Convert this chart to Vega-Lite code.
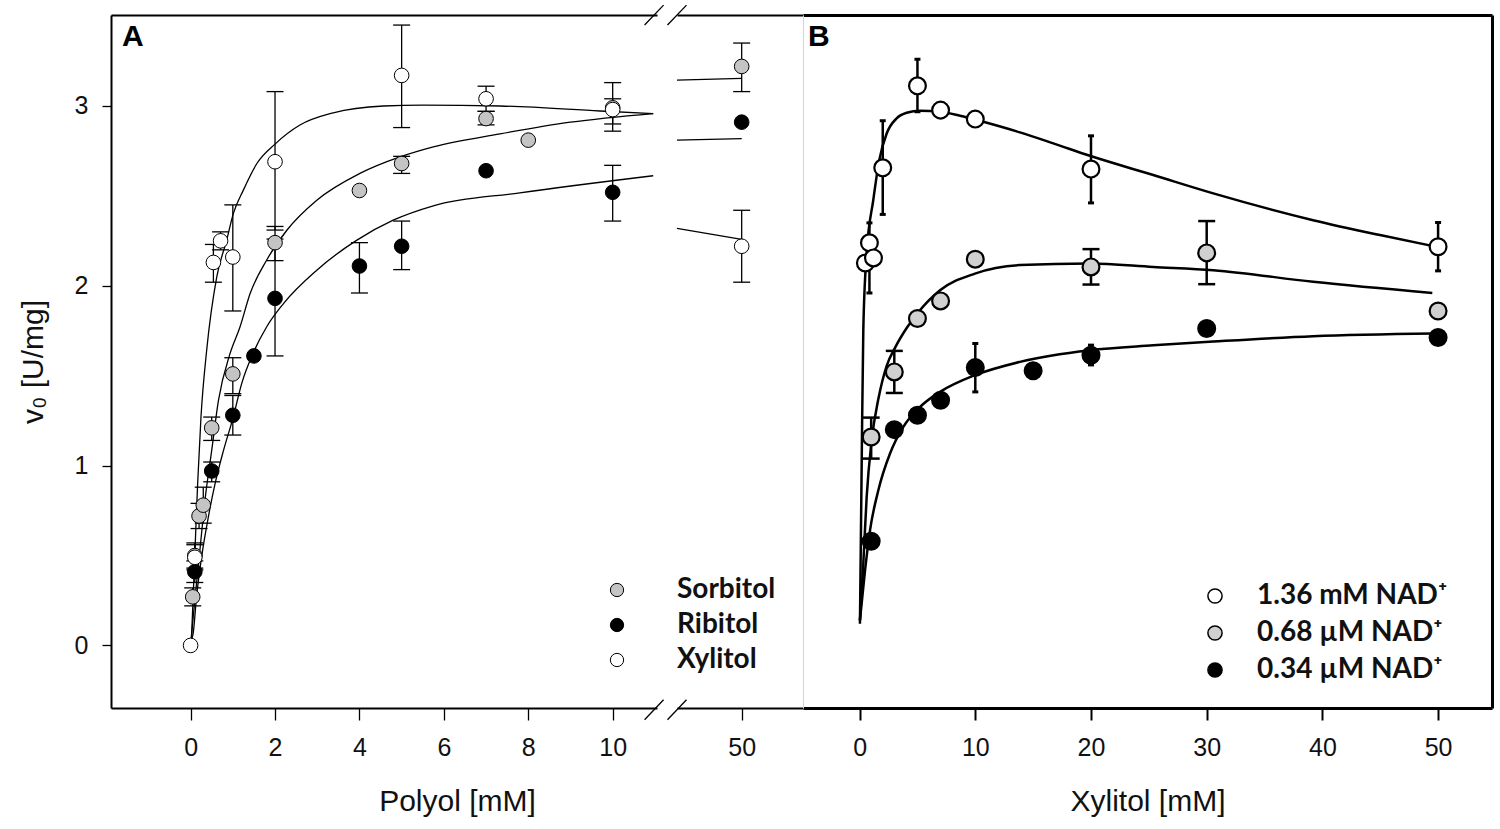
{
  "$schema": "https://vega.github.io/schema/vega-lite/v6.json",
  "background": "white",
  "padding": {"left": 18, "top": 4, "right": 5, "bottom": 5},
  "datasets": {
    "ptsA": [
      {"series": "Sorbitol", "x": 0.05, "v": 0.27, "lo": 0.22, "hi": 0.32},
      {"series": "Sorbitol", "x": 0.1, "v": 0.5, "lo": 0.43, "hi": 0.57},
      {"series": "Sorbitol", "x": 0.2, "v": 0.72, "lo": 0.65, "hi": 0.79},
      {"series": "Sorbitol", "x": 0.3, "v": 0.78, "lo": 0.68, "hi": 0.88},
      {"series": "Sorbitol", "x": 0.5, "v": 1.21, "lo": 1.14, "hi": 1.27},
      {"series": "Sorbitol", "x": 1, "v": 1.51, "lo": 1.4, "hi": 1.6},
      {"series": "Sorbitol", "x": 2, "v": 2.24, "lo": 2.14, "hi": 2.33},
      {"series": "Sorbitol", "x": 4, "v": 2.53},
      {"series": "Sorbitol", "x": 5, "v": 2.68, "lo": 2.625, "hi": 2.72},
      {"series": "Sorbitol", "x": 7, "v": 2.93, "lo": 2.895, "hi": 2.97},
      {"series": "Sorbitol", "x": 8, "v": 2.81},
      {"series": "Sorbitol", "x": 10, "v": 2.99, "lo": 2.9, "hi": 3.04},
      {"series": "Sorbitol", "x": 50, "v": 3.22, "lo": 3.08, "hi": 3.35},
      {"series": "Ribitol", "x": 0.1, "v": 0.41, "lo": 0.35, "hi": 0.47},
      {"series": "Ribitol", "x": 0.5, "v": 0.97, "lo": 0.91, "hi": 1.02},
      {"series": "Ribitol", "x": 1, "v": 1.28, "lo": 1.17, "hi": 1.39},
      {"series": "Ribitol", "x": 1.5, "v": 1.61},
      {"series": "Ribitol", "x": 2, "v": 1.93, "lo": 1.61, "hi": 2.26},
      {"series": "Ribitol", "x": 4, "v": 2.11, "lo": 1.96, "hi": 2.24},
      {"series": "Ribitol", "x": 5, "v": 2.22, "lo": 2.09, "hi": 2.36},
      {"series": "Ribitol", "x": 7, "v": 2.64},
      {"series": "Ribitol", "x": 10, "v": 2.52, "lo": 2.36, "hi": 2.67},
      {"series": "Ribitol", "x": 50, "v": 2.91},
      {"series": "Xylitol", "x": 0, "v": 0.0},
      {"series": "Xylitol", "x": 0.1, "v": 0.49, "lo": 0.42, "hi": 0.56},
      {"series": "Xylitol", "x": 0.54, "v": 2.13, "lo": 2.02, "hi": 2.23},
      {"series": "Xylitol", "x": 0.71, "v": 2.25, "lo": 2.2, "hi": 2.3},
      {"series": "Xylitol", "x": 1, "v": 2.16, "lo": 1.86, "hi": 2.45},
      {"series": "Xylitol", "x": 2, "v": 2.69, "lo": 2.31, "hi": 3.08},
      {"series": "Xylitol", "x": 5, "v": 3.17, "lo": 2.88, "hi": 3.45},
      {"series": "Xylitol", "x": 7, "v": 3.04, "lo": 2.97, "hi": 3.11},
      {"series": "Xylitol", "x": 10, "v": 2.98, "lo": 2.86, "hi": 3.13},
      {"series": "Xylitol", "x": 50, "v": 2.22, "lo": 2.02, "hi": 2.42}
    ],
    "curveA": [
      {"series": "Xylitol", "x": 0.02, "v": 0.03},
      {"series": "Xylitol", "x": 0.104, "v": 0.53},
      {"series": "Xylitol", "x": 0.167, "v": 0.9},
      {"series": "Xylitol", "x": 0.246, "v": 1.27},
      {"series": "Xylitol", "x": 0.38, "v": 1.64},
      {"series": "Xylitol", "x": 0.62, "v": 2.05},
      {"series": "Xylitol", "x": 0.855, "v": 2.254},
      {"series": "Xylitol", "x": 1.01, "v": 2.4},
      {"series": "Xylitol", "x": 1.25, "v": 2.532},
      {"series": "Xylitol", "x": 1.57, "v": 2.68},
      {"series": "Xylitol", "x": 2.0, "v": 2.788},
      {"series": "Xylitol", "x": 2.59, "v": 2.894},
      {"series": "Xylitol", "x": 3.38, "v": 2.962},
      {"series": "Xylitol", "x": 4.57, "v": 3.0},
      {"series": "Xylitol", "x": 5.5, "v": 3.005},
      {"series": "Xylitol", "x": 7.33, "v": 3.0},
      {"series": "Xylitol", "x": 9.7, "v": 2.972},
      {"series": "Xylitol", "x": 10.96, "v": 2.957},
      {"series": "Xylitol", "x": 43.84, "v": 2.319},
      {"series": "Xylitol", "x": 50, "v": 2.258},
      {"series": "Sorbitol", "x": 0.01, "v": 0.03},
      {"series": "Sorbitol", "x": 0.1, "v": 0.25},
      {"series": "Sorbitol", "x": 0.22, "v": 0.529},
      {"series": "Sorbitol", "x": 0.34, "v": 0.807},
      {"series": "Sorbitol", "x": 0.5, "v": 1.085},
      {"series": "Sorbitol", "x": 0.66, "v": 1.363},
      {"series": "Sorbitol", "x": 0.93, "v": 1.62},
      {"series": "Sorbitol", "x": 1.17, "v": 1.771},
      {"series": "Sorbitol", "x": 1.41, "v": 1.957},
      {"series": "Sorbitol", "x": 1.8, "v": 2.142},
      {"series": "Sorbitol", "x": 2.28, "v": 2.309},
      {"series": "Sorbitol", "x": 2.99, "v": 2.476},
      {"series": "Sorbitol", "x": 4.01, "v": 2.625},
      {"series": "Sorbitol", "x": 4.96, "v": 2.717},
      {"series": "Sorbitol", "x": 5.75, "v": 2.773},
      {"series": "Sorbitol", "x": 7.33, "v": 2.845},
      {"series": "Sorbitol", "x": 9.0, "v": 2.91},
      {"series": "Sorbitol", "x": 10.96, "v": 2.958},
      {"series": "Sorbitol", "x": 43.84, "v": 3.144},
      {"series": "Sorbitol", "x": 50, "v": 3.154},
      {"series": "Ribitol", "x": 0.01, "v": 0.03},
      {"series": "Ribitol", "x": 0.06, "v": 0.066},
      {"series": "Ribitol", "x": 0.14, "v": 0.269},
      {"series": "Ribitol", "x": 0.26, "v": 0.491},
      {"series": "Ribitol", "x": 0.42, "v": 0.714},
      {"series": "Ribitol", "x": 0.58, "v": 0.9},
      {"series": "Ribitol", "x": 0.78, "v": 1.085},
      {"series": "Ribitol", "x": 1.01, "v": 1.27},
      {"series": "Ribitol", "x": 1.21, "v": 1.456},
      {"series": "Ribitol", "x": 1.49, "v": 1.63},
      {"series": "Ribitol", "x": 1.8, "v": 1.771},
      {"series": "Ribitol", "x": 2.2, "v": 1.901},
      {"series": "Ribitol", "x": 2.99, "v": 2.087},
      {"series": "Ribitol", "x": 3.94, "v": 2.254},
      {"series": "Ribitol", "x": 4.8, "v": 2.365},
      {"series": "Ribitol", "x": 5.75, "v": 2.445},
      {"series": "Ribitol", "x": 7.8, "v": 2.517},
      {"series": "Ribitol", "x": 10.96, "v": 2.612},
      {"series": "Ribitol", "x": 43.84, "v": 2.81},
      {"series": "Ribitol", "x": 50, "v": 2.818}
    ],
    "ptsB": [
      {"series": "1.36 mM NAD⁺", "x": 0.5, "v": 2.127},
      {"series": "1.36 mM NAD⁺", "x": 0.85, "v": 2.239, "lo": 1.96, "hi": 2.35},
      {"series": "1.36 mM NAD⁺", "x": 1.2, "v": 2.155},
      {"series": "1.36 mM NAD⁺", "x": 2, "v": 2.656, "lo": 2.397, "hi": 2.918},
      {"series": "1.36 mM NAD⁺", "x": 5, "v": 3.112, "lo": 2.968, "hi": 3.26},
      {"series": "1.36 mM NAD⁺", "x": 7, "v": 2.977},
      {"series": "1.36 mM NAD⁺", "x": 10, "v": 2.927},
      {"series": "1.36 mM NAD⁺", "x": 20, "v": 2.649, "lo": 2.461, "hi": 2.834},
      {"series": "1.36 mM NAD⁺", "x": 50, "v": 2.217, "lo": 2.083, "hi": 2.352},
      {"series": "0.68 µM NAD⁺", "x": 1, "v": 1.159, "lo": 1.039, "hi": 1.267},
      {"series": "0.68 µM NAD⁺", "x": 3, "v": 1.521, "lo": 1.404, "hi": 1.638},
      {"series": "0.68 µM NAD⁺", "x": 5, "v": 1.818},
      {"series": "0.68 µM NAD⁺", "x": 7, "v": 1.916},
      {"series": "0.68 µM NAD⁺", "x": 10, "v": 2.148},
      {"series": "0.68 µM NAD⁺", "x": 20, "v": 2.105, "lo": 2.007, "hi": 2.204},
      {"series": "0.68 µM NAD⁺", "x": 30, "v": 2.183, "lo": 2.009, "hi": 2.36},
      {"series": "0.68 µM NAD⁺", "x": 50, "v": 1.86},
      {"series": "0.34 µM NAD⁺", "x": 1, "v": 0.579},
      {"series": "0.34 µM NAD⁺", "x": 3, "v": 1.2},
      {"series": "0.34 µM NAD⁺", "x": 5, "v": 1.28},
      {"series": "0.34 µM NAD⁺", "x": 7, "v": 1.363},
      {"series": "0.34 µM NAD⁺", "x": 10, "v": 1.545, "lo": 1.41, "hi": 1.679},
      {"series": "0.34 µM NAD⁺", "x": 15, "v": 1.527},
      {"series": "0.34 µM NAD⁺", "x": 20, "v": 1.614, "lo": 1.56, "hi": 1.67},
      {"series": "0.34 µM NAD⁺", "x": 30, "v": 1.762},
      {"series": "0.34 µM NAD⁺", "x": 50, "v": 1.712}
    ],
    "curveB": [
      {"series": "1.36 mM NAD⁺", "x": 0.03, "v": 0.12},
      {"series": "1.36 mM NAD⁺", "x": 0.18, "v": 1.01},
      {"series": "1.36 mM NAD⁺", "x": 0.32, "v": 1.753},
      {"series": "1.36 mM NAD⁺", "x": 0.61, "v": 2.18},
      {"series": "1.36 mM NAD⁺", "x": 1.18, "v": 2.476},
      {"series": "1.36 mM NAD⁺", "x": 1.7, "v": 2.699},
      {"series": "1.36 mM NAD⁺", "x": 2.34, "v": 2.847},
      {"series": "1.36 mM NAD⁺", "x": 3.2, "v": 2.931},
      {"series": "1.36 mM NAD⁺", "x": 4.07, "v": 2.962},
      {"series": "1.36 mM NAD⁺", "x": 5.22, "v": 2.973},
      {"series": "1.36 mM NAD⁺", "x": 6.95, "v": 2.968},
      {"series": "1.36 mM NAD⁺", "x": 8.68, "v": 2.946},
      {"series": "1.36 mM NAD⁺", "x": 10.69, "v": 2.912},
      {"series": "1.36 mM NAD⁺", "x": 13.86, "v": 2.853},
      {"series": "1.36 mM NAD⁺", "x": 16.74, "v": 2.792},
      {"series": "1.36 mM NAD⁺", "x": 19.9, "v": 2.723},
      {"series": "1.36 mM NAD⁺", "x": 25.38, "v": 2.616},
      {"series": "1.36 mM NAD⁺", "x": 30.57, "v": 2.514},
      {"series": "1.36 mM NAD⁺", "x": 39.2, "v": 2.365},
      {"series": "1.36 mM NAD⁺", "x": 44.98, "v": 2.282},
      {"series": "1.36 mM NAD⁺", "x": 50, "v": 2.215},
      {"series": "0.68 µM NAD⁺", "x": 0.03, "v": 0.14},
      {"series": "0.68 µM NAD⁺", "x": 0.32, "v": 0.455},
      {"series": "0.68 µM NAD⁺", "x": 0.61, "v": 0.825},
      {"series": "0.68 µM NAD⁺", "x": 1.04, "v": 1.141},
      {"series": "0.68 µM NAD⁺", "x": 1.62, "v": 1.37},
      {"series": "0.68 µM NAD⁺", "x": 2.34, "v": 1.555},
      {"series": "0.68 µM NAD⁺", "x": 3.06, "v": 1.655},
      {"series": "0.68 µM NAD⁺", "x": 4.07, "v": 1.765},
      {"series": "0.68 µM NAD⁺", "x": 4.99, "v": 1.846},
      {"series": "0.68 µM NAD⁺", "x": 6.95, "v": 1.975},
      {"series": "0.68 µM NAD⁺", "x": 9.97, "v": 2.068},
      {"series": "0.68 µM NAD⁺", "x": 13.86, "v": 2.115},
      {"series": "0.68 µM NAD⁺", "x": 19.9, "v": 2.124},
      {"series": "0.68 µM NAD⁺", "x": 25.38, "v": 2.105},
      {"series": "0.68 µM NAD⁺", "x": 30.57, "v": 2.087},
      {"series": "0.68 µM NAD⁺", "x": 39.2, "v": 2.022},
      {"series": "0.68 µM NAD⁺", "x": 49.5, "v": 1.96},
      {"series": "0.34 µM NAD⁺", "x": 0.03, "v": 0.14},
      {"series": "0.34 µM NAD⁺", "x": 0.47, "v": 0.417},
      {"series": "0.34 µM NAD⁺", "x": 0.9, "v": 0.64},
      {"series": "0.34 µM NAD⁺", "x": 1.62, "v": 0.863},
      {"series": "0.34 µM NAD⁺", "x": 2.63, "v": 1.067},
      {"series": "0.34 µM NAD⁺", "x": 3.78, "v": 1.215},
      {"series": "0.34 µM NAD⁺", "x": 5.22, "v": 1.326},
      {"series": "0.34 µM NAD⁺", "x": 6.95, "v": 1.41},
      {"series": "0.34 µM NAD⁺", "x": 9.97, "v": 1.503},
      {"series": "0.34 µM NAD⁺", "x": 13.86, "v": 1.577},
      {"series": "0.34 µM NAD⁺", "x": 19.9, "v": 1.642},
      {"series": "0.34 µM NAD⁺", "x": 25.38, "v": 1.669},
      {"series": "0.34 µM NAD⁺", "x": 30.57, "v": 1.69},
      {"series": "0.34 µM NAD⁺", "x": 39.2, "v": 1.72},
      {"series": "0.34 µM NAD⁺", "x": 49.6, "v": 1.735}
    ]
  },
  "spacing": 0,
  "resolve": {
    "scale": {"x": "independent", "y": "independent", "fill": "independent"},
    "legend": {"fill": "independent"}
  },
  "hconcat": [
    {
      "bounds": "flush",
      "spacing": 20,
      "resolve": {
        "scale": {"x": "independent", "y": "independent", "fill": "independent"},
        "legend": {"fill": "independent"}
      },
      "hconcat": [
        {
          "width": 546,
          "height": 693,
          "resolve": {"axis": {"x": "independent", "y": "independent"}},
          "layer": [
            {
              "data": {"name": "ptsA"},
              "transform": [{"filter": "datum.x < 20 && isValid(datum.lo)"}],
              "mark": {"type": "rule", "color": "black", "strokeWidth": 1.3},
              "encoding": {
                "x": {"field": "x", "type": "quantitative", "scale": {"domain": [-1.886, 11.05], "nice": false, "zero": false}, "axis": null},
                "y": {"field": "lo", "type": "quantitative", "scale": {"domain": [-0.348, 3.506], "nice": false, "zero": false}, "axis": null},
                "y2": {"field": "hi"}
              }
            },
            {
              "data": {"name": "ptsA"},
              "transform": [{"filter": "datum.x < 20 && isValid(datum.lo)"}],
              "mark": {"type": "tick", "orient": "horizontal", "color": "black", "size": 17, "thickness": 1.3, "opacity": 1},
              "encoding": {
                "x": {"field": "x", "type": "quantitative", "axis": null},
                "y": {"field": "lo", "type": "quantitative", "axis": null}
              }
            },
            {
              "data": {"name": "ptsA"},
              "transform": [{"filter": "datum.x < 20 && isValid(datum.hi)"}],
              "mark": {"type": "tick", "orient": "horizontal", "color": "black", "size": 17, "thickness": 1.3, "opacity": 1},
              "encoding": {
                "x": {"field": "x", "type": "quantitative", "axis": null},
                "y": {"field": "hi", "type": "quantitative", "axis": null}
              }
            },
            {
              "data": {"name": "curveA"},
              "transform": [{"filter": "datum.x < 20"}],
              "mark": {"type": "line", "color": "black", "strokeWidth": 1.3, "interpolate": "monotone"},
              "encoding": {
                "x": {"field": "x", "type": "quantitative", "axis": {"orient": "top", "labels": false, "ticks": false, "domainWidth": 2, "title": null}},
                "y": {"field": "v", "type": "quantitative", "axis": null},
                "detail": {"field": "series"}
              }
            },
            {
              "data": {"name": "ptsA"},
              "transform": [{"filter": "datum.x < 20"}],
              "mark": {"type": "point", "shape": "circle", "filled": true, "size": 214, "stroke": "black", "strokeWidth": 1, "opacity": 1},
              "encoding": {
                "x": {
                  "field": "x", "type": "quantitative",
                  "axis": {"orient": "bottom", "values": [0, 2, 4, 6, 8, 10], "tickSize": 12, "tickWidth": 1.3, "domainWidth": 2, "labelPadding": 15, "title": "Polyol [mM]", "titleX": 346, "titlePadding": 26}
                },
                "y": {
                  "field": "v", "type": "quantitative",
                  "axis": {"orient": "left", "values": [0, 1, 2, 3], "tickSize": 9, "tickWidth": 1.3, "domainWidth": 2, "labelPadding": 14, "title": "v₀ [U/mg]", "titlePadding": 26}
                },
                "fill": {
                  "field": "series", "type": "nominal",
                  "scale": {"domain": ["Sorbitol", "Ribitol", "Xylitol"], "range": ["#c4c4c4", "#000000", "#ffffff"]},
                  "legend": {"orient": "none", "legendX": 492, "legendY": 561, "title": null, "symbolSize": 177, "symbolStrokeWidth": 1, "labelOffset": 46, "rowPadding": 7, "labelLimit": 400}
                }
              }
            },
            {
              "data": {"values": [{}]},
              "mark": {"type": "text", "text": "A", "align": "left", "baseline": "top", "font": "Liberation Sans", "fontWeight": "bold", "fontSize": 30, "color": "black"},
              "encoding": {
                "x": {"datum": -1.626, "type": "quantitative", "axis": null},
                "y": {"datum": 3.467, "type": "quantitative", "axis": null}
              }
            },
            {
              "data": {"values": [{}]},
              "mark": {"type": "rule", "color": "black", "strokeWidth": 1.3},
              "encoding": {
                "x": {"datum": 10.756, "type": "quantitative", "axis": null},
                "x2": {"datum": 11.206},
                "y": {"datum": -0.4135, "type": "quantitative", "axis": null},
                "y2": {"datum": -0.302}
              }
            },
            {
              "data": {"values": [{}]},
              "mark": {"type": "rule", "color": "black", "strokeWidth": 1.3},
              "encoding": {
                "x": {"datum": 10.756, "type": "quantitative", "axis": null},
                "x2": {"datum": 11.206},
                "y": {"datum": 3.45, "type": "quantitative", "axis": null},
                "y2": {"datum": 3.561}
              }
            }
          ]
        },
        {
          "width": 126,
          "height": 693,
          "resolve": {"axis": {"x": "independent", "y": "independent"}},
          "layer": [
            {
              "data": {"name": "ptsA"},
              "transform": [{"filter": "datum.x > 20 && isValid(datum.lo)"}],
              "mark": {"type": "rule", "color": "black", "strokeWidth": 1.3},
              "encoding": {
                "x": {"field": "x", "type": "quantitative", "scale": {"domain": [43.84, 55.84], "nice": false, "zero": false}, "axis": null},
                "y": {"field": "lo", "type": "quantitative", "scale": {"domain": [-0.348, 3.506], "nice": false, "zero": false}, "axis": null},
                "y2": {"field": "hi"}
              }
            },
            {
              "data": {"name": "ptsA"},
              "transform": [{"filter": "datum.x > 20 && isValid(datum.lo)"}],
              "mark": {"type": "tick", "orient": "horizontal", "color": "black", "size": 17, "thickness": 1.3, "opacity": 1},
              "encoding": {
                "x": {"field": "x", "type": "quantitative", "axis": null},
                "y": {"field": "lo", "type": "quantitative", "axis": null}
              }
            },
            {
              "data": {"name": "ptsA"},
              "transform": [{"filter": "datum.x > 20 && isValid(datum.hi)"}],
              "mark": {"type": "tick", "orient": "horizontal", "color": "black", "size": 17, "thickness": 1.3, "opacity": 1},
              "encoding": {
                "x": {"field": "x", "type": "quantitative", "axis": null},
                "y": {"field": "hi", "type": "quantitative", "axis": null}
              }
            },
            {
              "data": {"name": "curveA"},
              "transform": [{"filter": "datum.x > 20"}],
              "mark": {"type": "line", "color": "black", "strokeWidth": 1.3},
              "encoding": {
                "x": {"field": "x", "type": "quantitative", "axis": {"orient": "top", "labels": false, "ticks": false, "domainWidth": 2, "title": null}},
                "y": {"field": "v", "type": "quantitative", "axis": null},
                "detail": {"field": "series"}
              }
            },
            {
              "data": {"name": "ptsA"},
              "transform": [{"filter": "datum.x > 20"}],
              "mark": {"type": "point", "shape": "circle", "filled": true, "size": 214, "stroke": "black", "strokeWidth": 1, "opacity": 1},
              "encoding": {
                "x": {
                  "field": "x", "type": "quantitative",
                  "axis": {"orient": "bottom", "values": [50], "tickSize": 12, "tickWidth": 1.3, "domainWidth": 2, "labelPadding": 15, "title": null}
                },
                "y": {"field": "v", "type": "quantitative", "axis": null},
                "fill": {
                  "field": "series", "type": "nominal",
                  "scale": {"domain": ["Sorbitol", "Ribitol", "Xylitol"], "range": ["#c4c4c4", "#000000", "#ffffff"]},
                  "legend": null
                }
              }
            },
            {
              "data": {"values": [{}]},
              "mark": {"type": "rule", "color": "black", "strokeWidth": 1.3},
              "encoding": {
                "x": {"datum": 42.935, "type": "quantitative", "axis": null},
                "x2": {"datum": 44.745},
                "y": {"datum": -0.4135, "type": "quantitative", "axis": null},
                "y2": {"datum": -0.302}
              }
            },
            {
              "data": {"values": [{}]},
              "mark": {"type": "rule", "color": "black", "strokeWidth": 1.3},
              "encoding": {
                "x": {"datum": 42.935, "type": "quantitative", "axis": null},
                "x2": {"datum": 44.745},
                "y": {"datum": 3.45, "type": "quantitative", "axis": null},
                "y2": {"datum": 3.561}
              }
            }
          ]
        }
      ]
    },
    {
      "width": 689,
      "height": 693,
      "resolve": {"axis": {"x": "independent", "y": "independent"}},
      "layer": [
        {
          "data": {"name": "ptsB"},
          "transform": [{"filter": "isValid(datum.lo)"}],
          "mark": {"type": "rule", "color": "black", "strokeWidth": 2.5},
          "encoding": {
            "x": {"field": "x", "type": "quantitative", "scale": {"domain": [-4.892, 54.66], "nice": false, "zero": false}, "axis": null},
            "y": {"field": "lo", "type": "quantitative", "scale": {"domain": [-0.348, 3.506], "nice": false, "zero": false}, "axis": null},
            "y2": {"field": "hi"}
          }
        },
        {
          "data": {"name": "ptsB"},
          "transform": [{"filter": "isValid(datum.lo) && datum.series === '0.68 µM NAD⁺'"}],
          "mark": {"type": "tick", "orient": "horizontal", "color": "black", "size": 17, "thickness": 2.5, "opacity": 1},
          "encoding": {
            "x": {"field": "x", "type": "quantitative", "axis": null},
            "y": {"field": "lo", "type": "quantitative", "axis": null}
          }
        },
        {
          "data": {"name": "ptsB"},
          "transform": [{"filter": "isValid(datum.hi) && datum.series === '0.68 µM NAD⁺'"}],
          "mark": {"type": "tick", "orient": "horizontal", "color": "black", "size": 17, "thickness": 2.5, "opacity": 1},
          "encoding": {
            "x": {"field": "x", "type": "quantitative", "axis": null},
            "y": {"field": "hi", "type": "quantitative", "axis": null}
          }
        },
        {
          "data": {"name": "ptsB"},
          "transform": [{"filter": "isValid(datum.lo) && datum.series !== '0.68 µM NAD⁺'"}],
          "mark": {"type": "tick", "orient": "horizontal", "color": "black", "size": 6, "thickness": 3, "opacity": 1},
          "encoding": {
            "x": {"field": "x", "type": "quantitative", "axis": null},
            "y": {"field": "lo", "type": "quantitative", "axis": null}
          }
        },
        {
          "data": {"name": "ptsB"},
          "transform": [{"filter": "isValid(datum.hi) && datum.series !== '0.68 µM NAD⁺'"}],
          "mark": {"type": "tick", "orient": "horizontal", "color": "black", "size": 6, "thickness": 3, "opacity": 1},
          "encoding": {
            "x": {"field": "x", "type": "quantitative", "axis": null},
            "y": {"field": "hi", "type": "quantitative", "axis": null}
          }
        },
        {
          "data": {"name": "curveB"},
          "mark": {"type": "line", "color": "black", "strokeWidth": 2.5, "interpolate": "monotone"},
          "encoding": {
            "x": {"field": "x", "type": "quantitative", "axis": {"orient": "top", "labels": false, "ticks": false, "domainWidth": 3, "title": null}},
            "y": {"field": "v", "type": "quantitative", "axis": {"orient": "right", "labels": false, "ticks": false, "domainWidth": 3, "title": null}},
            "detail": {"field": "series"}
          }
        },
        {
          "data": {"name": "ptsB"},
          "mark": {"type": "point", "shape": "circle", "filled": true, "size": 283, "stroke": "black", "strokeWidth": 2.2, "opacity": 1},
          "encoding": {
            "x": {
              "field": "x", "type": "quantitative",
              "axis": {"orient": "bottom", "values": [0, 10, 20, 30, 40, 50], "tickSize": 12, "tickWidth": 2, "domainWidth": 3, "labelPadding": 15, "title": "Xylitol [mM]", "titlePadding": 26}
            },
            "y": {
              "field": "v", "type": "quantitative",
              "axis": {"orient": "left", "labels": false, "ticks": false, "domainWidth": 1, "domainColor": "#d4d4d4", "title": null}
            },
            "fill": {
              "field": "series", "type": "nominal",
              "scale": {"domain": ["1.36 mM NAD⁺", "0.68 µM NAD⁺", "0.34 µM NAD⁺"], "range": ["#ffffff", "#d0d0d0", "#000000"]},
              "legend": {"orient": "none", "legendX": 398, "legendY": 567, "title": null, "symbolSize": 201, "symbolStrokeWidth": 1.5, "labelOffset": 28, "rowPadding": 9, "labelLimit": 400}
            }
          }
        },
        {
          "data": {"values": [{}]},
          "mark": {"type": "text", "text": "B", "align": "left", "baseline": "top", "font": "Liberation Sans", "fontWeight": "bold", "fontSize": 30, "color": "black"},
          "encoding": {
            "x": {"datum": -4.46, "type": "quantitative", "axis": null},
            "y": {"datum": 3.467, "type": "quantitative", "axis": null}
          }
        }
      ]
    }
  ],
  "config": {
    "view": {"stroke": null},
    "axis": {
      "grid": false,
      "labelFont": "Liberation Sans",
      "titleFont": "Liberation Sans",
      "labelFontSize": 25,
      "titleFontSize": 30,
      "titleFontWeight": "normal",
      "labelColor": "#111111",
      "titleColor": "#111111",
      "domainColor": "#000000",
      "tickColor": "#000000"
    },
    "legend": {
      "labelFont": "Lato",
      "labelFontWeight": "bold",
      "labelFontSize": 28,
      "labelColor": "#111111",
      "symbolType": "circle",
      "symbolStrokeColor": "#000000",
      "padding": 0
    }
  }
}
